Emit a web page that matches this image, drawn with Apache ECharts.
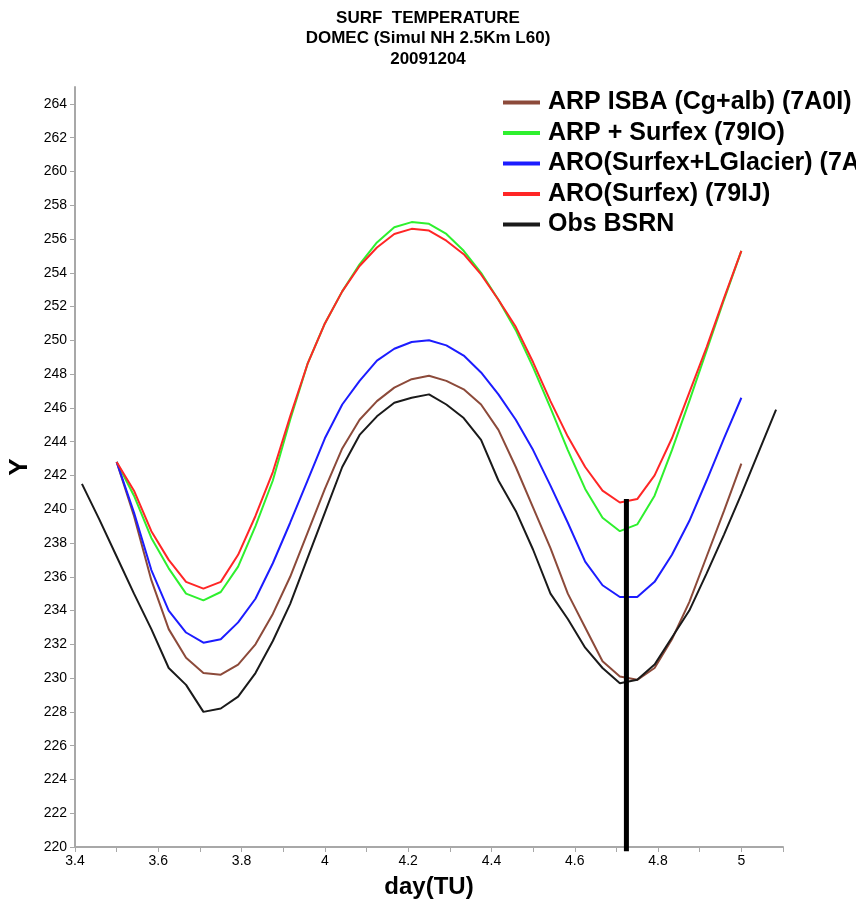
<!DOCTYPE html>
<html>
<head>
<meta charset="utf-8">
<title>SURF TEMPERATURE - DOMEC</title>
<script src="https://cdn.jsdelivr.net/npm/echarts@6/dist/echarts.min.js"></script>
<style>
  html, body { margin: 0; padding: 0; background: #ffffff; }
  #chart { width: 856px; height: 901px; }
</style>
</head>
<body>
<div id="chart"></div>
<script>
// Hourly sampling: hour counts since day 0 of the run
const modelStartHour = 84;   // day 3.5
const obsStartHour = 82;     // day 3.4167

// Surface temperature (K), one value per hour
const arpIsba = [
  242.8, 239.6, 235.8, 232.9, 231.2, 230.3, 230.2, 230.8, 232.0, 233.8,
  236.0, 238.6, 241.2, 243.6, 245.3, 246.4, 247.2, 247.7, 247.9, 247.6,
  247.1, 246.2, 244.7, 242.5, 240.1, 237.7, 235.0, 233.0, 231.0, 230.1,
  229.9, 230.6, 232.3, 234.5, 237.2, 239.9, 242.7
];
const arpSurfex = [
  242.8, 240.8, 238.3, 236.5, 235.0, 234.6, 235.1, 236.6, 239.0, 241.7,
  245.3, 248.6, 251.0, 252.9, 254.5, 255.8, 256.7, 257.0, 256.9, 256.3,
  255.3, 254.0, 252.4, 250.6, 248.4, 246.0, 243.5, 241.2, 239.5, 238.7,
  239.1, 240.8, 243.5, 246.4, 249.4, 252.4, 255.3
];
const aroGlacier = [
  242.8, 239.8, 236.4, 234.0, 232.7, 232.1, 232.3, 233.3, 234.7, 236.8,
  239.2, 241.7, 244.2, 246.2, 247.6, 248.8, 249.5, 249.9, 250.0, 249.7,
  249.1, 248.1, 246.8, 245.3, 243.5, 241.4, 239.2, 236.9, 235.5, 234.8,
  234.8, 235.7, 237.3, 239.3, 241.7, 244.2, 246.6
];
const aroSurfex = [
  242.8, 241.1, 238.7, 237.0, 235.7, 235.3, 235.7, 237.3, 239.6, 242.2,
  245.5, 248.6, 251.0, 252.9, 254.4, 255.5, 256.3, 256.6, 256.5, 255.9,
  255.1, 253.9, 252.4, 250.8, 248.7, 246.4, 244.3, 242.5, 241.1, 240.4,
  240.6, 242.0, 244.2, 246.9, 249.6, 252.5, 255.3
];
const obsBsrn = [
  241.5, 239.4, 237.2, 235.0, 232.9, 230.6, 229.6, 228.0, 228.2, 228.9,
  230.3, 232.2, 234.4, 237.1, 239.8, 242.5, 244.4, 245.5, 246.3, 246.6,
  246.8, 246.2, 245.4, 244.1, 241.7, 239.9, 237.6, 235.0, 233.5, 231.8,
  230.6, 229.7, 229.9, 230.8, 232.4, 234.0, 236.2, 238.5, 240.9, 243.4,
  245.9
];

// Time cursor (day, temperature extent)
const cursorDay = 4.724;
const cursorRange = [219.75, 240.6];

// Axis ticks and labels
const xTicks = [3.4, 3.5, 3.6, 3.7, 3.8, 3.9, 4.0, 4.1, 4.2, 4.3, 4.4, 4.5, 4.6, 4.7, 4.8, 4.9, 5.0, 5.1];
const xTickLabels = [3.4, 3.6, 3.8, 4.0, 4.2, 4.4, 4.6, 4.8, 5.0];
const yTicks = [220, 222, 224, 226, 228, 230, 232, 234, 236, 238, 240, 242, 244, 246, 248, 250, 252, 254, 256, 258, 260, 262, 264];

const seriesNames = [
  'ARP ISBA (Cg+alb) (7A0I)',
  'ARP + Surfex (79IO)',
  'ARO(Surfex+LGlacier) (7A0J)',
  'ARO(Surfex) (79IJ)',
  'Obs BSRN'
];
const seriesColors = ['#8c4a3a', '#2ef02e', '#1c1cff', '#ff2626', '#1a1a1a'];

function pairWithDays(startHour, values) {
  return values.map((v, i) => [(startHour + i) / 24, v]);
}

const seriesValues = [arpIsba, arpSurfex, aroGlacier, aroSurfex, obsBsrn];
const seriesStarts = [modelStartHour, modelStartHour, modelStartHour, modelStartHour, obsStartHour];

const lineSeries = seriesValues.map((vals, i) => ({
  name: seriesNames[i],
  type: 'line',
  data: pairWithDays(seriesStarts[i], vals),
  showSymbol: false,
  symbol: 'none',
  smooth: false,
  lineStyle: { color: seriesColors[i], width: 2 },
  itemStyle: { color: seriesColors[i] },
  emphasis: { disabled: true },
  z: 2
}));

lineSeries.push({
  name: 'cursor',
  type: 'line',
  data: [[cursorDay, cursorRange[0]], [cursorDay, cursorRange[1]]],
  showSymbol: false,
  symbol: 'none',
  clip: false,
  silent: true,
  lineStyle: { color: '#000000', width: 5, cap: 'butt' },
  emphasis: { disabled: true },
  z: 5
});

const chart = echarts.init(document.getElementById('chart'), null, { renderer: 'canvas' });

const axisGray = '#a8a8a8';
const boldFont = "'Liberation Sans', Arial, sans-serif";
const labelFont = "'Liberation Sans Narrow', 'Liberation Sans', Arial, sans-serif";

chart.setOption({
  animation: false,
  backgroundColor: '#ffffff',
  title: {
    text: 'SURF  TEMPERATURE\nDOMEC (Simul NH 2.5Km L60)\n20091204',
    left: 'center',
    top: 3,
    textStyle: {
      fontFamily: boldFont,
      fontWeight: 'bold',
      fontSize: 17,
      lineHeight: 20.5,
      color: '#000000'
    }
  },
  legend: {
    data: seriesNames,
    orient: 'vertical',
    left: 498,
    top: 85,
    itemWidth: 37,
    itemHeight: 4,
    itemGap: 5.5,
    icon: 'rect',
    selectedMode: false,
    textStyle: {
      fontFamily: boldFont,
      fontWeight: 'bold',
      fontSize: 25,
      lineHeight: 25,
      color: '#000000',
      padding: [0, 0, 0, 3]
    }
  },
  grid: {
    left: 75,
    right: 73,
    top: 87,
    bottom: 54,
    containLabel: false,
    outerBoundsMode: 'none'
  },
  xAxis: {
    type: 'value',
    min: 3.4,
    max: 5.1,
    name: 'day(TU)',
    nameLocation: 'middle',
    nameGap: 28,
    nameTextStyle: {
      fontFamily: boldFont,
      fontWeight: 'bold',
      fontSize: 24,
      color: '#000000'
    },
    axisLine: { show: true, onZero: false, lineStyle: { color: axisGray, width: 2 } },
    axisTick: { show: true, inside: false, length: 5, customValues: xTicks, lineStyle: { color: axisGray, width: 1 } },
    axisLabel: {
      customValues: xTickLabels,
      margin: 7,
      fontFamily: labelFont,
      fontSize: 14,
      color: '#000000',
      formatter: v => String(Math.round(v * 10) / 10)
    },
    splitLine: { show: false }
  },
  yAxis: {
    type: 'value',
    min: 220,
    max: 265,
    name: 'Y',
    nameLocation: 'middle',
    nameRotate: 90,
    nameGap: 41,
    nameTextStyle: {
      fontFamily: boldFont,
      fontWeight: 'bold',
      fontSize: 26,
      color: '#000000'
    },
    axisLine: { show: true, onZero: false, lineStyle: { color: axisGray, width: 2 } },
    axisTick: { show: true, inside: false, length: 5, customValues: yTicks, lineStyle: { color: axisGray, width: 1 } },
    axisLabel: {
      customValues: yTicks,
      margin: 8,
      fontFamily: labelFont,
      fontSize: 14,
      color: '#000000'
    },
    splitLine: { show: false }
  },
  series: lineSeries
});
</script>
</body>
</html>
